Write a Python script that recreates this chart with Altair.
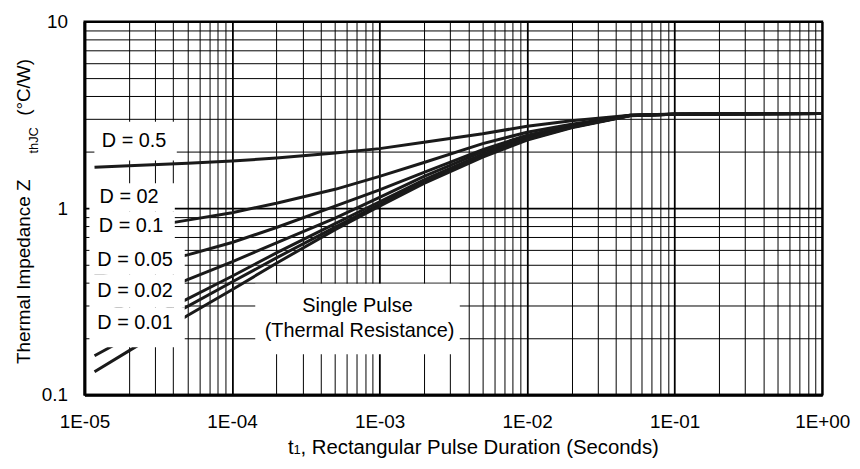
import altair as alt
import pandas as pd

# ---- data (t in seconds, Z in degC/W) ----
t_values = [1.17e-5, 2e-5, 5e-5, 1e-4, 2e-4, 5e-4, 1e-3, 2e-3, 5e-3, 1e-2, 2e-2, 5e-2, 1e-1, 1.0]
z_d05 = [1.658, 1.687, 1.740, 1.789, 1.856, 1.974, 2.085, 2.258, 2.506, 2.747, 2.938, 3.151, 3.194, 3.214]
z_d02 = [0.710, 0.764, 0.863, 0.946, 1.063, 1.262, 1.480, 1.757, 2.217, 2.552, 2.815, 3.144, 3.190, 3.214]
z_d01 = [0.435, 0.480, 0.562, 0.655, 0.788, 1.025, 1.254, 1.554, 2.060, 2.460, 2.764, 3.144, 3.190, 3.214]
z_d005 = [0.260, 0.309, 0.414, 0.516, 0.652, 0.885, 1.144, 1.480, 2.010, 2.401, 2.731, 3.140, 3.190, 3.214]
z_d002 = [0.187, 0.230, 0.327, 0.432, 0.576, 0.827, 1.083, 1.418, 1.950, 2.363, 2.724, 3.136, 3.190, 3.214]
z_d001 = [0.162, 0.204, 0.298, 0.402, 0.542, 0.792, 1.050, 1.392, 1.925, 2.342, 2.714, 3.132, 3.190, 3.214]
z_single = [0.133, 0.172, 0.266, 0.366, 0.507, 0.768, 1.025, 1.358, 1.879, 2.314, 2.697, 3.124, 3.190, 3.214]

series_names = ["D = 0.5", "D = 0.2", "D = 0.1", "D = 0.05", "D = 0.02", "D = 0.01", "Single Pulse"]
series_values = [z_d05, z_d02, z_d01, z_d005, z_d002, z_d001, z_single]

x_decades = [1e-5, 1e-4, 1e-3, 1e-2, 1e-1, 1.0]
x_tick_labels = ["1E-05", "1E-04", "1E-03", "1E-02", "1E-01", "1E+00"]
y_decades = [0.1, 1.0, 10.0]
y_tick_labels = ["0.1", "1", "10"]

box_labels = ["D = 0.5", "D = 02", "D = 0.1", "D = 0.05", "D = 0.02", "D = 0.01"]

FONT = "Liberation Sans"

rows = []
for name, vals in zip(series_names, series_values):
    for t, z in zip(t_values, vals):
        rows.append({"t": t, "z": z, "series": name})
df = pd.DataFrame(rows)

x_grid = [m * d for d in x_decades[:-1] for m in range(1, 10)] + [x_decades[-1]]
y_grid = [m * d for d in y_decades[:-1] for m in range(1, 10)] + [y_decades[-1]]


def label_expr(vals, labs):
    expr = "''"
    for v, lab in reversed(list(zip(vals, labs))):
        expr = f"(abs(datum.value - {v!r}) < {v * 1e-3!r} ? '{lab}' : {expr})"
    return expr


def decade_test(vals):
    return " || ".join(f"abs(datum.value - {v!r}) < {v * 1e-3!r}" for v in vals)


common_axis = dict(
    grid=True,
    gridColor="#000000",
    gridOpacity=1,
    ticks=False,
    tickSize=0,
    domainColor="#000000",
    domainWidth=3,
    labelFont=FONT,
    labelFontSize=19,
    labelColor="#000000",
    labelOverlap=False,
    labelFlush=False,
    title=None,
)

x_axis = alt.Axis(
    values=x_grid,
    labelExpr=label_expr(x_decades, x_tick_labels),
    gridWidth={"condition": {"test": decade_test(x_decades), "value": 1.8}, "value": 1},
    labelPadding=18,
    **common_axis,
)
y_axis = alt.Axis(
    values=y_grid,
    labelExpr=label_expr(y_decades, y_tick_labels),
    gridWidth={"condition": {"test": decade_test(y_decades), "value": 1.8}, "value": 1},
    labelPadding=17,
    **common_axis,
)

lines = alt.Chart(df).mark_line(color="#1a1a1a", strokeWidth=3).encode(
    x=alt.X("t:Q", scale=alt.Scale(type="log", domain=[1e-5, 1], nice=False), axis=x_axis),
    y=alt.Y("z:Q", scale=alt.Scale(type="log", domain=[0.1, 10], nice=False), axis=y_axis),
    detail="series:N",
)

one = alt.Data(values=[{}])


def box(x1, x2, y1, y2):
    return alt.Chart(one).mark_rect(fill="white", stroke=None).encode(
        x=alt.value(x1), x2=alt.value(x2), y=alt.value(y1), y2=alt.value(y2)
    )


def text(s, x, y, size=20, align="center", baseline="middle", angle=0):
    return alt.Chart(one).mark_text(
        text=s, font=FONT, fontSize=size, color="#000000",
        align=align, baseline=baseline, angle=angle,
    ).encode(x=alt.value(x), y=alt.value(y))


# label boxes (pixel positions relative to plot area)
boxes = [
    box(10, 93, 101, 140),
    box(5, 91, 163, 191),
    box(5, 91, 191, 224),
    box(5, 101, 224, 255),
    box(5, 101, 255, 288),
    box(5, 101, 288, 328),
    box(172, 378, 264, 335),
]

label_y = [120, 177, 206, 240, 271, 304]
label_x = [50, 45, 47, 51, 51, 51]
labels = [text(s, x, y) for s, x, y in zip(box_labels, label_x, label_y)]
labels += [
    text("Single Pulse", 275, 287),
    text("(Thermal Resistance)", 277, 312),
]

# axis titles
titles = [
    text("t", 205, 436, size=20.5, align="left", baseline="alphabetic"),
    text("1", 210.5, 436, size=13, align="left", baseline="alphabetic"),
    text(", Rectangular Pulse Duration (Seconds)", 217.5, 436, size=20.5, align="left", baseline="alphabetic"),
    text("Thermal Impedance Z", -55, 345, size=19, align="left", baseline="alphabetic", angle=270),
    text("thJC", -47, 133, size=13, align="left", baseline="alphabetic", angle=270),
    text("(°C/W)", -55, 95, size=19, align="left", baseline="alphabetic", angle=270),
]

chart = alt.layer(lines, *boxes, *labels, *titles).properties(
    width=743,
    height=376,
    autosize=alt.AutoSizeParams(type="none"),
    padding={"left": 77, "top": 12, "right": 30, "bottom": 65},
).configure_view(stroke="#000000", strokeWidth=2)

chart.save("out.html", embed_options={"renderer": "svg", "actions": False})
